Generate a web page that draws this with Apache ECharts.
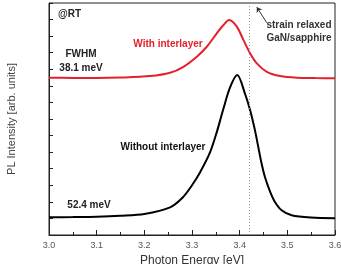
<!DOCTYPE html>
<html>
<head>
<meta charset="utf-8">
<title>PL spectra</title>
<script src="https://cdn.jsdelivr.net/npm/echarts@6/dist/echarts.min.js"></script>
<style>
  html, body { margin: 0; padding: 0; background: #fff; }
  #chart { width: 341px; height: 264px; }
</style>
</head>
<body>
<div id="chart"></div>
<script>
// 数据: 带插入层 (红色)
var withEnergy = [3.00, 3.05, 3.10, 3.15, 3.212, 3.254, 3.282, 3.310, 3.331, 3.352, 3.366, 3.378, 3.394, 3.408, 3.422, 3.436, 3.457, 3.485, 3.52, 3.56, 3.60];
var withIntensity = [9.49, 9.48, 9.47, 9.50, 9.59, 9.79, 10.15, 10.76, 11.36, 12.17, 12.67, 12.97, 12.57, 11.76, 10.96, 10.36, 9.85, 9.59, 9.49, 9.47, 9.46];

// 数据: 无插入层 (黑色)
var withoutEnergy = [3.00, 3.05, 3.10, 3.15, 3.20, 3.254, 3.281, 3.300, 3.317, 3.338, 3.352, 3.365, 3.380, 3.395, 3.411, 3.422, 3.432, 3.439, 3.446, 3.453, 3.464, 3.474, 3.488, 3.509, 3.55, 3.60];
var withoutIntensity = [1.07, 1.08, 1.10, 1.16, 1.27, 1.67, 2.28, 3.00, 3.79, 5.00, 6.21, 7.53, 8.92, 9.65, 8.54, 7.53, 6.33, 5.32, 4.31, 3.50, 2.60, 1.99, 1.49, 1.19, 1.05, 1.01];

// 应变弛豫 GaN/蓝宝石 的参考位置
var relaxedEnergy = 3.424;
var arrowFrom = [3.457, 12.80];
var arrowTo = [3.436, 13.75];

var xTicks = ['3.0', '3.1', '3.2', '3.3', '3.4', '3.5', '3.6'];

function pairs(xs, ys) {
  var out = [];
  for (var i = 0; i < xs.length; i++) out.push([xs[i], ys[i]]);
  return out;
}

var chart = echarts.init(document.getElementById('chart'));

var font = 'Liberation Sans, Arial, sans-serif';

var option = {
  animation: false,
  grid: {
    left: 49, right: 6, top: 3, bottom: 29,
    outerBoundsMode: 'none',
    show: true, borderColor: '#222', borderWidth: 1
  },
  xAxis: {
    type: 'value',
    min: 3.0, max: 3.6, interval: 0.1,
    name: 'Photon Energy [eV]',
    nameLocation: 'middle',
    nameGap: 18,
    nameTextStyle: { fontFamily: font, fontSize: 12, color: '#333' },
    axisLine: { lineStyle: { color: '#222', width: 1 } },
    axisTick: { inside: true, length: 5, lineStyle: { color: '#222' } },
    minorTick: { show: true, splitNumber: 2, length: 3, lineStyle: { color: '#222' } },
    splitLine: { show: false },
    axisLabel: {
      fontFamily: font, fontSize: 9, color: '#555', margin: 6,
      formatter: function (v) {
        var i = Math.round((v - 3.0) / 0.1);
        return xTicks[i] || '';
      }
    }
  },
  yAxis: {
    type: 'value',
    min: 0, max: 14, interval: 1,
    name: 'PL Intensity [arb. units]',
    nameLocation: 'middle',
    nameGap: 32,
    nameTextStyle: { fontFamily: font, fontSize: 11, color: '#444' },
    axisLine: { show: true, lineStyle: { color: '#222', width: 1 } },
    axisTick: { inside: true, length: 4, lineStyle: { color: '#222' } },
    axisLabel: { show: false },
    splitLine: { show: false }
  },
  series: [
    {
      name: 'With interlayer',
      type: 'line',
      smooth: 0.3,
      showSymbol: false,
      data: pairs(withEnergy, withIntensity),
      lineStyle: { color: '#e3202b', width: 2 },
      itemStyle: { color: '#e3202b' },
      markLine: {
        silent: true,
        symbol: ['none', 'arrow'],
        symbolSize: 5,
        label: { show: false },
        data: [
          [{ coord: arrowFrom }, { coord: arrowTo }]
        ],
        lineStyle: { color: '#333', width: 1, type: 'solid' }
      }
    },
    {
      name: 'Without interlayer',
      type: 'line',
      smooth: 0.3,
      showSymbol: false,
      data: pairs(withoutEnergy, withoutIntensity),
      lineStyle: { color: '#000', width: 2 },
      itemStyle: { color: '#000' },
      markLine: {
        silent: true,
        symbol: ['none', 'none'],
        label: { show: false },
        data: [{ xAxis: relaxedEnergy }],
        lineStyle: { color: '#999', width: 1, type: [1, 2] }
      }
    }
  ],
  // 图中的文字标注
  graphic: [
    { type: 'text', left: 58, top: 9, style: { text: '@RT', font: 'bold 10px ' + font, fill: '#222' } },
    { type: 'text', x: 81, y: 54, style: { text: 'FWHM', font: 'bold 10px ' + font, fill: '#222', align: 'center', verticalAlign: 'middle' } },
    { type: 'text', x: 81, y: 68, style: { text: '38.1 meV', font: 'bold 10px ' + font, fill: '#222', align: 'center', verticalAlign: 'middle' } },
    { type: 'text', x: 168, y: 44, style: { text: 'With interlayer', font: 'bold 10px ' + font, fill: '#e3202b', align: 'center', verticalAlign: 'middle' } },
    { type: 'text', x: 163, y: 147, style: { text: 'Without interlayer', font: 'bold 10px ' + font, fill: '#111', align: 'center', verticalAlign: 'middle' } },
    { type: 'text', x: 89, y: 205, style: { text: '52.4 meV', font: 'bold 10px ' + font, fill: '#222', align: 'center', verticalAlign: 'middle' } },
    { type: 'text', x: 299, y: 25, style: { text: 'strain relaxed', font: 'bold 10px ' + font, fill: '#333', align: 'center', verticalAlign: 'middle' } },
    { type: 'text', x: 299, y: 38, style: { text: 'GaN/sapphire', font: 'bold 10px ' + font, fill: '#333', align: 'center', verticalAlign: 'middle' } }
  ]
};

chart.setOption(option);
</script>
</body>
</html>
